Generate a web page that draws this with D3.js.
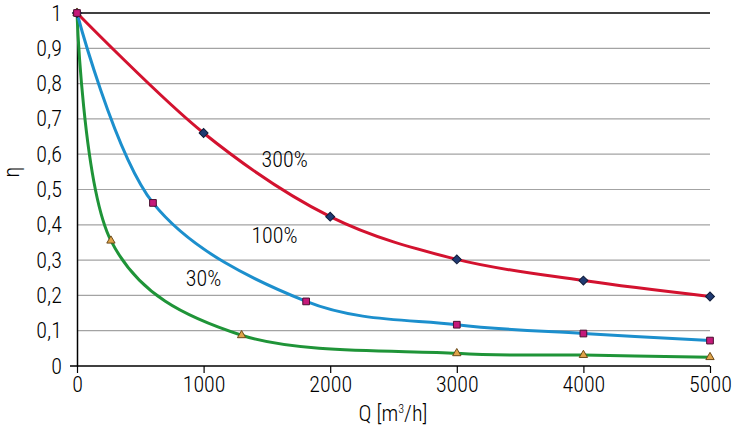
<!DOCTYPE html>
<html>
<head>
<meta charset="utf-8">
<script src="https://cdn.jsdelivr.net/npm/d3@7"></script>
<style>
  body { margin: 0; background: #fff; }
  svg text { font-family: "Roboto Condensed", "Liberation Sans Narrow", "Liberation Sans", sans-serif; font-weight: 300; fill: #000; }
</style>
</head>
<body>
<svg class="chart"></svg>
<script>
// chart values
var yTicks = [0, 0.1, 0.2, 0.3, 0.4, 0.5, 0.6, 0.7, 0.8, 0.9, 1];
var xTicks = [0, 1000, 2000, 3000, 4000, 5000];

var q300 = [0, 1000, 2000, 3000, 4000, 5000];
var eta300 = [1, 0.66, 0.423, 0.302, 0.242, 0.197];

var q100 = [0, 600, 1810, 3000, 4000, 5000];
var eta100 = [1, 0.462, 0.183, 0.117, 0.092, 0.072];

var q30 = [0, 268, 1300, 3000, 4000, 5000];
var eta30 = [1, 0.355, 0.087, 0.036, 0.031, 0.025];

var seriesNames = ["30%", "100%", "300%"];

function show() {
    'use strict';

    var margin = { top: 13, right: 24, bottom: 67, left: 77 },
        width = 734 - margin.left - margin.right,
        height = 433 - margin.top - margin.bottom;

    var svg = d3.select(".chart")
        .attr("width", 734)
        .attr("height", 433);

    var chart = svg.append("g")
        .attr("transform", "translate(" + margin.left + "," + margin.top + ")");

    var x = d3.scaleLinear().domain([0, 5000]).range([0, width]);
    var y = d3.scaleLinear().domain([0, 1]).range([height, 0]);

    var fmt = function (d) { return d3.format("")(d).replace(".", ","); };

    // grid lines
    chart.append("g").selectAll("line")
        .data(yTicks.filter(d => d > 0))
        .enter().append("line")
        .attr("x1", 0).attr("x2", width)
        .attr("y1", d => y(d)).attr("y2", d => y(d))
        .attr("stroke", d => d === 1 ? "#000" : "#a3a3a3")
        .attr("stroke-width", d => d === 1 ? 1.5 : 1.2);

    // y axis
    var left = d3.axisLeft(y).tickValues(yTicks).tickSize(0).tickPadding(15).tickFormat(fmt);
    var gy = chart.append("g").call(left);
    gy.select(".domain").attr("stroke", "#000").attr("stroke-width", 1.5);
    gy.selectAll("text").style("font-size", "22px");

    // x axis
    var bottom = d3.axisBottom(x).tickValues(xTicks).tickSize(7).tickPadding(3).tickFormat(d3.format(""));
    var gx = chart.append("g")
        .attr("transform", "translate(0," + height + ")")
        .call(bottom);
    gx.select(".domain").attr("d", "M-7,0H" + width).attr("stroke", "#000").attr("stroke-width", 1.5);
    gx.selectAll(".tick line").attr("stroke", "#000").attr("stroke-width", 1.2);
    gx.selectAll("text").style("font-size", "22px");

    var line = d3.line()
        .x(d => x(d[0]))
        .y(d => y(d[1]))
        .curve(d3.curveCardinal.tension(0));

    var series = [
        { name: seriesNames[0], pts: d3.zip(q30, eta30), color: "#1f9438", marker: "tri" },
        { name: seriesNames[1], pts: d3.zip(q100, eta100), color: "#1c8fcd", marker: "sq" },
        { name: seriesNames[2], pts: d3.zip(q300, eta300), color: "#d3122f", marker: "dia" }
    ];

    series.forEach(function (s) {
        chart.append("path")
            .attr("d", line(s.pts))
            .attr("fill", "none")
            .attr("stroke", s.color)
            .attr("stroke-width", 3);
    });

    var sym = {
        tri: d3.symbol().type(d3.symbolTriangle).size(30),
        sq: d3.symbol().type(d3.symbolSquare).size(45),
        dia: d3.symbol().type(d3.symbolSquare).size(40)
    };
    var rot = { tri: 0, sq: 0, dia: 45 };
    var fills = { tri: "#e0a44a", sq: "#c5197a", dia: "#203a72" };
    var strokes = { tri: "#6b4a1a", sq: "#4a1030", dia: "#101c3a" };

    // markers, squares last so the one at the origin sits on top
    [series[2], series[0], series[1]].forEach(function (s) {
        chart.append("g").selectAll("path")
            .data(s.pts)
            .enter().append("path")
            .attr("transform", d => "translate(" + x(d[0]) + "," + y(d[1]) + ") rotate(" + rot[s.marker] + ")")
            .attr("d", sym[s.marker])
            .attr("fill", fills[s.marker])
            .attr("stroke", strokes[s.marker])
            .attr("stroke-width", 1);
    });

    // series labels
    var labelPos = [[1000, 0.248], [1560, 0.37], [1640, 0.585]];
    chart.append("g").selectAll("text")
        .data(series)
        .enter().append("text")
        .attr("x", (d, i) => x(labelPos[i][0]))
        .attr("y", (d, i) => y(labelPos[i][1]))
        .attr("text-anchor", "middle")
        .attr("dy", "0.35em")
        .style("font-size", "22px")
        .text(d => d.name);

    // axis titles
    svg.append("text")
        .attr("transform", "translate(19,172) rotate(-90)")
        .attr("text-anchor", "middle")
        .style("font-size", "22px")
        .text("η");

    var qt = svg.append("text")
        .attr("x", 393)
        .attr("y", 421)
        .attr("text-anchor", "middle")
        .style("font-size", "22px");
    qt.append("tspan").text("Q [m");
    qt.append("tspan").attr("dy", -8).style("font-size", "12px").text("3");
    qt.append("tspan").attr("dy", 8).text("/h]");
}
show();
</script>
</body>
</html>
